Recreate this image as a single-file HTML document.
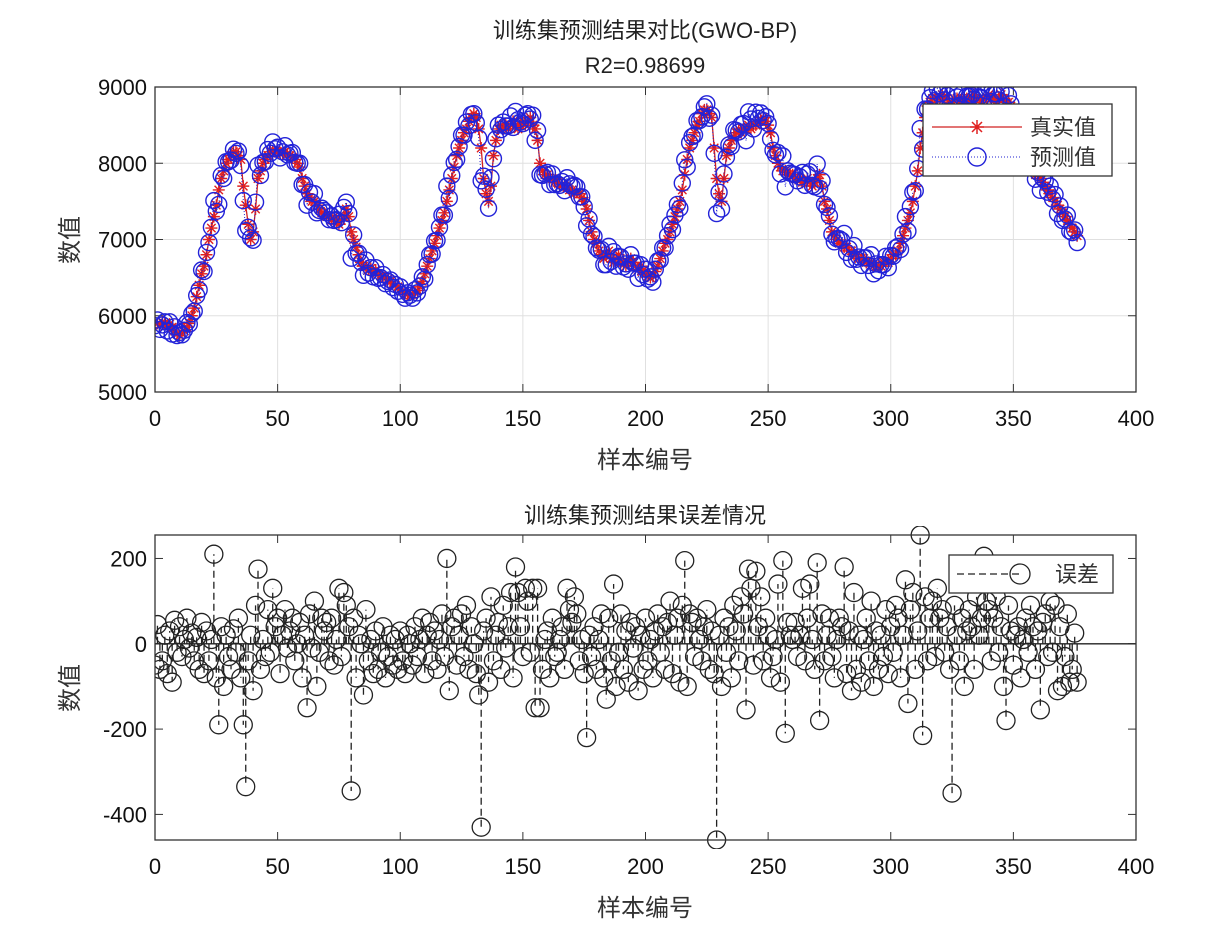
<!DOCTYPE html>
<html><head><meta charset="utf-8"><style>
html,body{margin:0;padding:0;background:#fff;}
svg{display:block;font-family:"Liberation Sans","Noto Sans CJK SC",sans-serif;}
</style></head><body>
<svg id="chart" width="1211" height="939" viewBox="0 0 1211 939" xmlns="http://www.w3.org/2000/svg">
<defs><clipPath id="clipTop"><rect x="155" y="87" width="981" height="305"/></clipPath>
<clipPath id="clipBot"><rect x="155" y="526" width="981" height="323"/></clipPath></defs>
<rect width="1211" height="939" fill="#fff"/>
<g id="topAxes"></g>
<g id="botAxes"></g>
<text x="645" y="38" font-size="22" text-anchor="middle" fill="#222">训练集预测结果对比(GWO-BP)</text>
<text x="645" y="73" font-size="22" text-anchor="middle" fill="#222">R2=0.98699</text>
<text x="645" y="468" font-size="24" text-anchor="middle" fill="#333">样本编号</text>
<text transform="translate(78,240) rotate(-90)" font-size="24" text-anchor="middle" fill="#333">数值</text>
<text x="645" y="523" font-size="22" text-anchor="middle" fill="#222">训练集预测结果误差情况</text>
<text x="645" y="916" font-size="24" text-anchor="middle" fill="#333">样本编号</text>
<text transform="translate(78,688) rotate(-90)" font-size="24" text-anchor="middle" fill="#333">数值</text>
</svg>
<script>
const actual = [
5920,5900,5880,5920,5900,5870,5890,5850,5800,
5760,5740,5780,5800,5850,
5900,6000,6100,6250,6400,6550,6650,
6800,7000,7150,7300,7450,7650,7800,7900,
8000,8050,8100,8150,8150,8100,8050,
7700,7450,7200,7000,7100,7400,7800,
7900,8000,8050,8100,8150,8150,
8150,8150,8140,8130,8150,8120,8100,8080,8050,8000,
7950,7800,7700,7600,7550,7500,7500,7450,
7400,7350,7350,7300,7300,7250,7300,7250,7200,7250,7300,7400,7300,7100,
7000,6900,6800,6700,6650,6650,6600,6620,6580,6600,6550,6520,
6500,6500,6480,6450,6420,6400,6380,6350,6320,6300,6280,6270,
6280,6300,6330,6380,6450,6550,
6650,6750,6850,6950,7050,7150,7250,7350,
7500,7650,7800,7950,8100,8200,8300,8400,
8450,8550,8600,8650,8600,8450,8200,
7800,7600,7500,7700,8100,
8300,8450,8500,8450,8500,8450,8500,8550,8500,8450,8500,8550,8500,8550,8600,8500,8450,8300,
8000,7900,7850,7850,7800,7800,7750,7750,7700,7720,7700,7680,
7650,7650,7600,7620,7600,7550,7500,7400,7250,7100,7000,
6950,6850,6800,6750,6800,6850,6750,6700,6750,6800,6700,
6700,6650,6700,6750,6700,6650,6600,6650,6600,6550,6520,6500,6520,
6580,6650,6750,6850,6950,7000,7100,7200,7300,7400,7500,
7650,7850,8050,8200,8300,8400,8500,8550,8650,8700,
8700,8650,8600,8200,7800,7600,7500,7800,
8100,8200,8300,8350,8400,8450,8400,8450,
8450,8500,8450,8500,8500,8550,8550,8600,8550,8500,8400,
8200,8100,8000,7950,7900,7900,7850,7850,7850,
7800,7800,7800,7750,7750,7800,7750,7700,7750,7800,7850,7700,7500,
7400,7250,7100,7050,7000,6950,6950,6900,6900,6850,6850,
6800,6800,6750,6750,6750,6700,6700,6700,6650,6650,6650,6650,6700,6700,
6700,6750,6800,6800,6850,6950,7050,7150,7250,7350,7500,7700,
7900,8200,8400,8600,8750,8800,8850,8850,
8850,8850,8900,8850,8850,8800,8800,8850,8850,8800,8850,8850,8850,8800,8850,8900,8850,8850,
8800,8850,8850,8900,8850,8850,8800,8850,8900,8850,8800,8800,8750,8650,8550,8400,
8300,8200,8100,8000,7950,7900,7850,7850,7800,7750,7700,7650,7600,
7550,7500,7450,7400,7350,7300,7250,7200,7150,7100,7050
];
const errors = [
-50,45,-60,-40,20,-70,30,-90,55,-20,40,-30,10,60,-10,25,-40,15,-60,50,
-70,30,-40,10,210,-80,-190,40,-100,20,-30,-60,35,-20,60,-80,-190,-335,-40,20,
-110,90,175,-60,10,-30,80,-20,130,40,60,-70,20,80,-10,30,60,-40,0,50,
-80,20,-150,70,-10,100,-100,-20,60,30,50,-40,60,-50,10,130,-30,120,90,40,
-345,60,-80,20,0,-120,80,-40,10,-70,30,-60,-20,40,-80,-30,20,-50,10,-60,
30,-40,-70,20,0,-50,40,-30,10,60,-70,20,50,-40,30,-60,10,70,-30,200,
-110,40,60,-50,20,70,-30,90,-60,40,0,-70,-120,-430,30,60,-90,110,-40,20,
50,-60,90,-10,40,120,-80,180,120,40,-30,130,100,-20,130,-150,130,-150,-60,10,
30,-80,60,-30,-20,10,40,-60,130,80,50,110,70,-40,10,-70,-220,20,-30,40,
-60,10,70,-80,-130,60,-40,140,-100,-20,70,-60,30,-90,50,-10,40,-110,20,-60,
60,-40,10,-80,30,70,-20,40,-60,50,100,-70,20,60,-90,90,195,-100,70,50,
-30,60,10,-40,40,80,-60,30,-70,-460,20,-100,60,-20,40,-80,90,30,-40,110,
70,-155,175,130,-50,170,40,110,-40,60,20,-80,-30,10,140,-90,195,-210,50,20,
10,50,-30,20,130,-40,60,140,10,-60,190,-180,70,-40,20,60,-30,-80,10,60,
40,180,-70,30,-110,120,-60,20,-90,10,60,-40,100,-100,30,-60,20,-30,80,-70,
40,-20,90,60,-80,20,150,-140,80,120,-60,30,255,-215,110,-40,60,100,-30,130,
60,80,-20,40,-60,-350,90,20,-40,60,-100,30,80,40,-60,110,20,60,205,100,
80,-40,60,110,-20,40,-100,-180,90,30,-50,20,40,-80,10,60,-20,90,40,-60,
30,-155,50,70,-30,100,-20,90,-110,40,-100,-30,70,-90,-60,25,-90
];
const xTicks = [0,50,100,150,200,250,300,350,400];
const topYTicks = [5000,6000,7000,8000,9000];
const botYTicks = [-400,-200,0,200];

const NS = "http://www.w3.org/2000/svg";
function mk(parent, tag, attrs){ const e=document.createElementNS(NS,tag); for(const k in attrs) e.setAttribute(k,attrs[k]); parent.appendChild(e); return e; }
const L=155,R=1136;
const xS = v => L + (v-0)/(400-0)*(R-L);
const T1=87,B1=392; const yT = v => B1 - (v-5000)/(9000-5000)*(B1-T1);
const T2=535,B2=840;
const eMin=Math.min(...errors), eMax=Math.max(...errors);
const yB = v => B2 - (v-eMin)/(eMax-eMin)*(B2-T2);
const predicted = actual.map((a,i)=>a+(errors[i]||0));

const topG=document.getElementById('topAxes'), botG=document.getElementById('botAxes');

let bg=mk(topG,'rect',{x:L,y:T1,width:R-L,height:B1-T1,fill:'#fff'});


xTicks.forEach(t=>{
  const g=mk(topG,'line',{x1:xS(t),x2:xS(t),y1:T1,y2:B1,stroke:'#e0e0e0','stroke-width':1});
  
  
  mk(topG,'line',{x1:xS(t),x2:xS(t),y1:B1,y2:B1-8,stroke:'#333'});
  mk(topG,'line',{x1:xS(t),x2:xS(t),y1:T1,y2:T1+8,stroke:'#333'});
  const lb=mk(topG,'text',{x:xS(t),y:B1+34,'font-size':22,'text-anchor':'middle',fill:'#111'}); lb.textContent=t;
  
  
});
topYTicks.forEach(t=>{
  const g=mk(topG,'line',{x1:L,x2:R,y1:yT(t),y2:yT(t),stroke:'#e0e0e0','stroke-width':1});
  
  
  mk(topG,'line',{x1:L,x2:L+8,y1:yT(t),y2:yT(t),stroke:'#333'});
  mk(topG,'line',{x1:R,x2:R-8,y1:yT(t),y2:yT(t),stroke:'#333'});
  const lb=mk(topG,'text',{x:L-8,y:yT(t)+8,'font-size':22,'text-anchor':'end',fill:'#111'}); lb.textContent=t;
  
  
});
const topMarks=mk(topG,'g',{'clip-path':'url(#clipTop)'});


let ap=actual.map((v,i)=>(i?'L':'M')+xS(i).toFixed(1)+','+yT(v).toFixed(1)).join('');
let al=mk(topMarks,'path',{d:ap,fill:'none',stroke:'#d02020','stroke-width':1.3});


actual.forEach((v,i)=>{
  const cx=xS(i), cy=yT(v), s=6;
  const d=`M${cx-s},${cy}L${cx+s},${cy}M${cx},${cy-s}L${cx},${cy+s}M${cx-s*.7},${cy-s*.7}L${cx+s*.7},${cy+s*.7}M${cx-s*.7},${cy+s*.7}L${cx+s*.7},${cy-s*.7}`;
  const p=mk(topMarks,'path',{d:d,stroke:'#e02020','stroke-width':1.4,fill:'none'});
  
  
});
let pp=predicted.map((v,i)=>(i?'L':'M')+xS(i).toFixed(1)+','+yT(v).toFixed(1)).join('');
let pl=mk(topMarks,'path',{d:pp,fill:'none',stroke:'#2020d0','stroke-width':1,'stroke-dasharray':'1,2'});


predicted.forEach((v,i)=>{
  const c=mk(topMarks,'circle',{cx:xS(i),cy:yT(v),r:8,fill:'none',stroke:'#2323d8','stroke-width':1.4});
  
  
});
let fr=mk(topG,'rect',{x:L,y:T1,width:R-L,height:B1-T1,fill:'none',stroke:'#333','stroke-width':1.3});


let lg=mk(topG,'g',{});


mk(lg,'rect',{x:923,y:104,width:189,height:72,fill:'#fff',stroke:'#333','stroke-width':1.3});
mk(lg,'line',{x1:932,x2:1022,y1:127,y2:127,stroke:'#d02020','stroke-width':1.3});
mk(lg,'path',{d:'M970,127L984,127M977,120L977,134M972,122L982,132M972,132L982,122',stroke:'#e02020','stroke-width':1.5});
let t1=mk(lg,'text',{x:1030,y:135,'font-size':22,fill:'#333'}); t1.textContent='真实值';


mk(lg,'line',{x1:932,x2:1022,y1:157,y2:157,stroke:'#2020d0','stroke-dasharray':'1,2'});
mk(lg,'circle',{cx:977,cy:157,r:9,fill:'none',stroke:'#2323d8','stroke-width':1.4});
let t2=mk(lg,'text',{x:1030,y:165,'font-size':22,fill:'#333'}); t2.textContent='预测值';



xTicks.forEach(t=>{
  mk(botG,'line',{x1:xS(t),x2:xS(t),y1:B2,y2:B2-8,stroke:'#333'});
  mk(botG,'line',{x1:xS(t),x2:xS(t),y1:T2,y2:T2+8,stroke:'#333'});
  const lb=mk(botG,'text',{x:xS(t),y:B2+34,'font-size':22,'text-anchor':'middle',fill:'#111'}); lb.textContent=t;
  
  
});
botYTicks.forEach(t=>{
  mk(botG,'line',{x1:L,x2:L+8,y1:yB(t),y2:yB(t),stroke:'#333'});
  mk(botG,'line',{x1:R,x2:R-8,y1:yB(t),y2:yB(t),stroke:'#333'});
  const lb=mk(botG,'text',{x:L-8,y:yB(t)+8,'font-size':22,'text-anchor':'end',fill:'#111'}); lb.textContent=t;
  
  
});
let bl=mk(botG,'line',{x1:L,x2:R,y1:yB(0),y2:yB(0),stroke:'#222','stroke-width':1.4});


const botMarks=mk(botG,'g',{'clip-path':'url(#clipBot)'});


errors.forEach((v,i)=>{
  const s=mk(botMarks,'line',{x1:xS(i),x2:xS(i),y1:yB(0),y2:yB(v),stroke:'#222','stroke-width':1.3,'stroke-dasharray':'7,4'});
  
  
});
errors.forEach((v,i)=>{
  const c=mk(botMarks,'circle',{cx:xS(i),cy:yB(v),r:9,fill:'none',stroke:'#222','stroke-width':1.3});
  
  
});
let fr2=mk(botG,'rect',{x:L,y:T2,width:R-L,height:B2-T2,fill:'none',stroke:'#333','stroke-width':1.3});


let lg2=mk(botG,'g',{});


mk(lg2,'rect',{x:949,y:555,width:164,height:38,fill:'#fff',stroke:'#333','stroke-width':1.3});
mk(lg2,'line',{x1:957,x2:1020,y1:574,y2:574,stroke:'#222','stroke-dasharray':'7,4','stroke-width':1.3});
mk(lg2,'circle',{cx:1020,cy:574,r:10,fill:'none',stroke:'#222','stroke-width':1.3});
let t3=mk(lg2,'text',{x:1055,y:582,'font-size':22,fill:'#333'}); t3.textContent='误差';


</script>
</body></html>
